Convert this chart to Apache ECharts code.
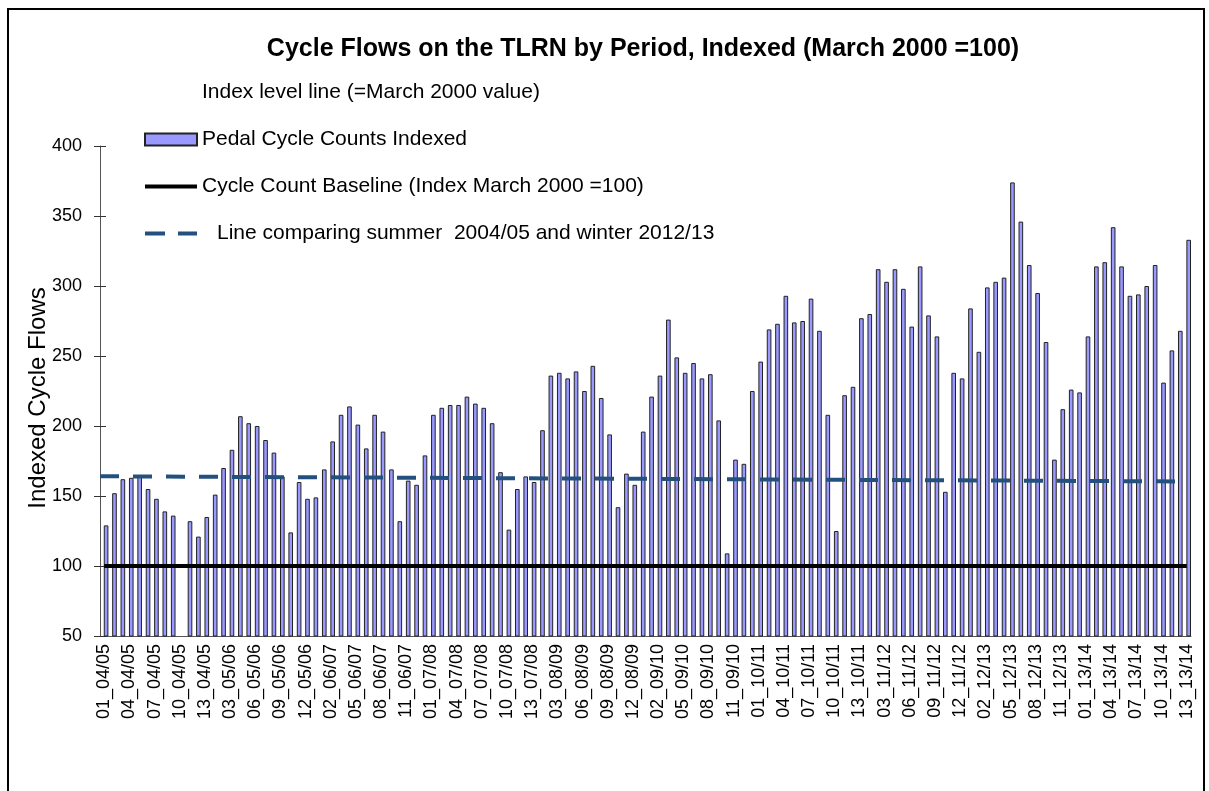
<!DOCTYPE html>
<html>
<head>
<meta charset="utf-8">
<script src="https://cdn.jsdelivr.net/npm/echarts@6/dist/echarts.min.js"></script>
<style>
html,body{margin:0;padding:0;background:#fff;}
#chart{width:1209px;height:791px;}
</style>
</head>
<body>
<div id="chart"></div>
<script>
// ---- data ----
const years = ['04/05','05/06','06/07','07/08','08/09','09/10','10/11','11/12','12/13','13/14'];
const periods = ['01','02','03','04','05','06','07','08','09','10','11','12','13'];
const categories = [];
years.forEach(y => periods.forEach(p => categories.push(p + '_' + y)));

const pedalIndexed = [
  129,152,162,163,164,155,148,139,136,null,132,121,135,
  151,170,183,207,202,200,190,181,164,124,160,148,149,
  169,189,208,214,201,184,208,196,169,132,161,158,179,
  208,213,215,215,221,216,213,202,167,126,155,164,160,
  197,236,238,234,239,225,243,220,194,142,166,158,196,
  221,236,276,249,238,245,234,237,204,109,176,173,225,
  246,269,273,293,274,275,291,268,208,125,222,228,277,
  280,312,303,312,298,271,314,279,264,153,238,234,284,
  253,299,303,306,374,346,315,295,260,176,212,226,224,
  264,314,317,342,314,293,294,300,315,231,254,268,333
];
const baselineValue = 100;
const compareLineX = [0, 129.5];
const compareLineY = [164.1, 160.4];
const yTicks = { min: 50, max: 400, interval: 50 };

const names = {
  index: 'Index level line (=March 2000 value)',
  pedal: 'Pedal Cycle Counts Indexed',
  base: 'Cycle Count Baseline (Index March 2000 =100)',
  comp: 'Line comparing summer  2004/05 and winter 2012/13'
};

const FONT = '"Liberation Sans", Arial, sans-serif';
const chart = echarts.init(document.getElementById('chart'));
chart.setOption({
  animation: false,
  backgroundColor: '#fff',
  textStyle: { fontFamily: FONT, color: '#000' },
  title: {
    text: 'Cycle Flows on the TLRN by Period, Indexed (March 2000 =100)',
    left: 638, top: 32, textAlign: 'center',
    textStyle: { fontFamily: FONT, fontSize: 25, fontWeight: 'bold', color: '#000' }
  },
  graphic: [{
    type: 'rect', shape: { x: 8, y: 9, width: 1196, height: 820 },
    style: { fill: 'none', stroke: '#000', lineWidth: 2 }, silent: true, z: -1
  }],
  legend: {
    orient: 'vertical', left: 138, top: 77,
    itemWidth: 52, itemHeight: 12, itemGap: 26,
    data: [
      { name: names.index },
      { name: names.pedal, icon: 'rect' },
      { name: names.base, itemStyle: { opacity: 0 }, lineStyle: { width: 4, color: '#000' } },
      { name: names.comp, itemStyle: { opacity: 0 }, lineStyle: { width: 4, color: '#23507f', type: [20, 13] } }
    ],
    lineStyle: { width: 4 },
    textStyle: { fontFamily: FONT, fontSize: 21, color: '#000', lineHeight: 21,
      rich: { pad: { fontFamily: FONT, fontSize: 21, color: '#000', lineHeight: 21, padding: [0, 0, 0, 15] } } },
    formatter: n => n === names.comp ? '{pad|' + n + '}' : n
  },
  grid: { left: 100, right: 18, top: 146, bottom: 155 },
  xAxis: [{
    type: 'category', data: categories,
    axisLine: { lineStyle: { color: '#555', width: 1 } },
    axisTick: { interval: 0, length: 5, lineStyle: { color: '#333' } },
    axisLabel: { interval: 2, rotate: 90, fontSize: 18, color: '#000', margin: 8, fontFamily: FONT }
  }, {
    type: 'value', min: 0, max: 130, show: false
  }],
  yAxis: [{
    type: 'value', min: yTicks.min, max: yTicks.max, interval: yTicks.interval,
    name: 'Indexed Cycle Flows', nameLocation: 'middle', nameGap: 50, nameMoveOverlap: false,
    nameTextStyle: { fontFamily: FONT, fontSize: 24, color: '#000', padding: [0, 14, 0, 0] },
    axisLine: { show: true, lineStyle: { color: '#555' } },
    axisTick: { show: true, length: 6, lineStyle: { color: '#333' } },
    axisLabel: { fontSize: 18, color: '#000', margin: 18, fontFamily: FONT },
    splitLine: { show: false }
  }, {
    type: 'value', min: yTicks.min, max: yTicks.max, interval: yTicks.interval, position: 'left',
    axisLine: { show: false },
    axisTick: { show: true, inside: true, length: 6, lineStyle: { color: '#333' } },
    axisLabel: { show: false }, splitLine: { show: false }
  }],
  series: [{
    name: names.index, type: 'bar', data: [],
    barWidth: '45%', barGap: '0%',
    itemStyle: { color: 'rgba(0,0,0,0)', borderWidth: 0 }
  }, {
    name: names.pedal, type: 'bar', data: pedalIndexed,
    barWidth: '55%', barGap: '0%',
    itemStyle: { color: '#9999FF', borderColor: '#222', borderWidth: 1 }
  }, {
    name: names.base, type: 'line', symbol: 'none', z: 5,
    data: [[categories[0], baselineValue], [categories[categories.length - 1], baselineValue]],
    lineStyle: { color: '#000', width: 4 }, itemStyle: { color: '#000', opacity: 0 }
  }, {
    name: names.comp, type: 'line', symbol: 'none', xAxisIndex: 1, z: 6,
    data: compareLineX.map((x, i) => [x, compareLineY[i]]),
    lineStyle: { color: '#23507f', width: 4, type: [19, 14], cap: 'butt' },
    itemStyle: { color: '#23507f', opacity: 0 }
  }]
});
</script>
</body>
</html>
